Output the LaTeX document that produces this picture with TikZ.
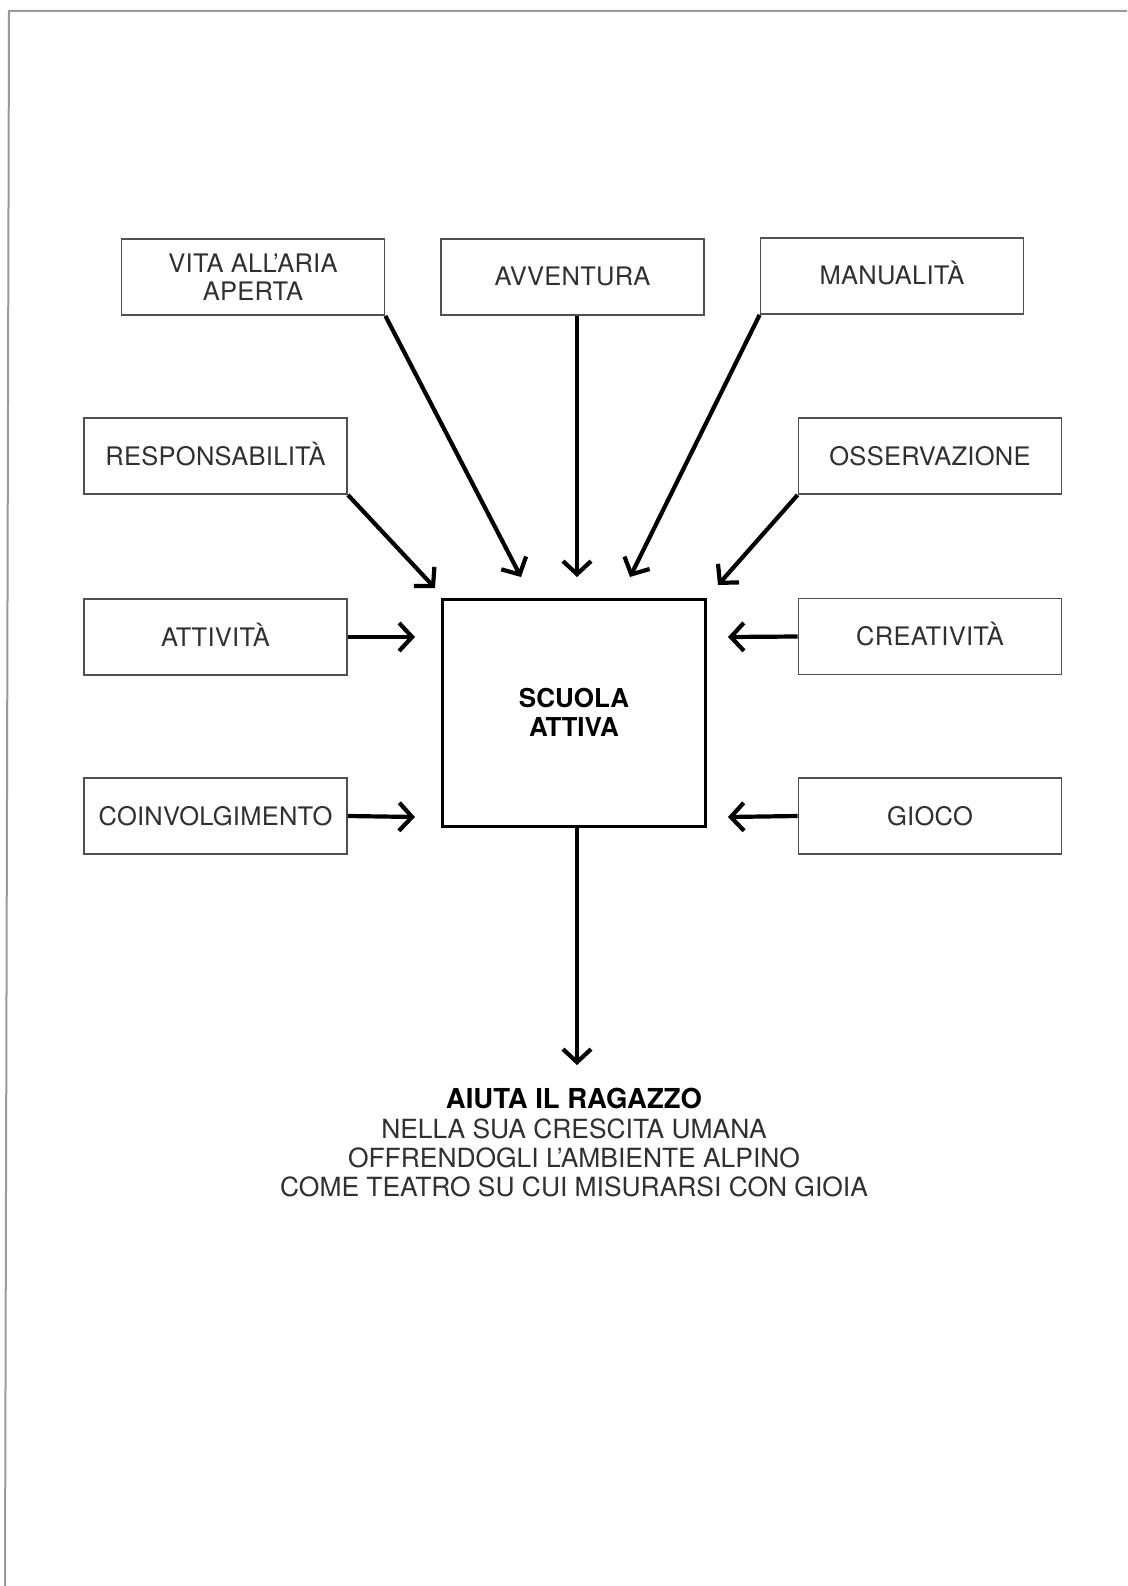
\documentclass[tikz,border=0pt]{standalone}
\usepackage{fontspec}
\setmainfont{TeX Gyre Heros}
\usetikzlibrary{arrows.meta}
\definecolor{boxgray}{HTML}{505050}
\definecolor{txtgray}{HTML}{303030}
\definecolor{framegray}{HTML}{9A9A9A}
\begin{document}
\begin{tikzpicture}[x=1pt,y=-1pt,
  box/.style={draw=boxgray, line width=1.8pt, minimum width=263pt, minimum height=76pt,
    inner sep=0pt, align=center, text=txtgray,
    font=\fontsize{25.5}{28.5}\selectfont\addfontfeatures{LetterSpace=1}},
  onebox/.style={box, text height=20pt, text depth=2pt},
  mainbox/.style={draw=black, line width=3pt, minimum width=263pt, minimum height=227pt,
    inner sep=0pt, align=center, font=\bfseries\fontsize{26}{29}\selectfont},
  arr/.style={line width=4.2pt, -{Straight Barb[length=13pt,width=28pt]}},
  frame/.style={draw=framegray, line width=2pt}
]
\useasboundingbox (0,0) rectangle (1127,1586);
% page frame
\coordinate (fTR) at (1127,11);
\coordinate (fTL) at (9,11);
\coordinate (fBL) at (5,1586);
\draw[frame] (fTR) -- (fTL) -- (fBL);

% boxes
\node[box] (vita) at (253,277) {VITA ALL'ARIA\\APERTA};
\node[onebox] (avv)  at (572.5,277) {AVVENTURA};
\node[onebox] (man)  at (892,276) {MANUALITÀ};
\node[onebox] (resp) at (215.5,456) {RESPONSABILITÀ};
\node[onebox] (oss)  at (930,456) {OSSERVAZIONE};
\node[onebox] (att)  at (215.5,637) {ATTIVITÀ};
\node[onebox] (cre)  at (930,636.5) {CREATIVITÀ};
\node[onebox] (coin) at (215.5,816) {COINVOLGIMENTO};
\node[onebox] (gio)  at (930,816) {GIOCO};
\node[mainbox] (scuola) at (574,712.5) {SCUOLA\\ATTIVA};

% arrow tips
\coordinate (tVita) at (521,577);
\coordinate (tAvv)  at (577,577);
\coordinate (tMan)  at (630,577);
\coordinate (tResp) at (435,588);
\coordinate (tOss)  at (718,585);
\coordinate (tAtt)  at (415,637);
\coordinate (tCre)  at (728,637);
\coordinate (tCoin) at (415,817);
\coordinate (tGio)  at (728,817);
\coordinate (tDown) at (577,1065);

\draw[arr] (vita.south east) -- (tVita);
\draw[arr] (avv.south -| tAvv) -- (tAvv);
\draw[arr] (man.south west) -- (tMan);
\draw[arr] (resp.south east) -- (tResp);
\draw[arr] (oss.south west) -- (tOss);
\draw[arr] (att.east) -- (tAtt);
\draw[arr] (cre.west) -- (tCre);
\draw[arr] (coin.east) -- (tCoin);
\draw[arr] (gio.west) -- (tGio);
\draw[arr] (scuola.south -| tDown) -- (tDown);

% bottom text
\node[align=center, text=txtgray, font=\fontsize{26.4}{29.1}\selectfont, anchor=north] (aiuta) at (574,1085)
  {{\bfseries\color{black}\fontsize{27.5}{28.6}\selectfont AIUTA IL RAGAZZO}\\
   NELLA SUA CRESCITA UMANA\\
   OFFRENDOGLI L'AMBIENTE ALPINO\\
   COME TEATRO SU CUI MISURARSI CON GIOIA};
\end{tikzpicture}
\end{document}
